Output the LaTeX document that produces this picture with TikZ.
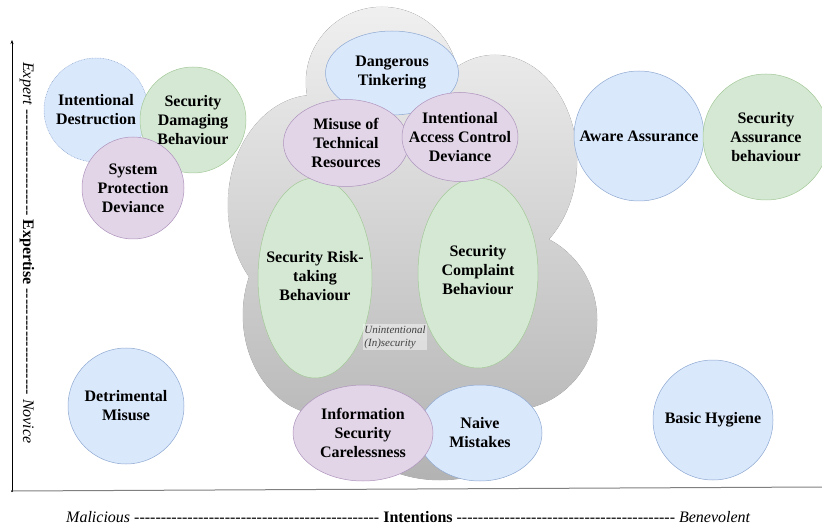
\documentclass[tikz,border=0pt]{standalone}
\usepackage{fontspec}
\setmainfont{Liberation Serif}
\usetikzlibrary{shapes.geometric,arrows.meta}

\definecolor{bluefill}{HTML}{DAE8FC}
\definecolor{blueline}{HTML}{8EA9D1}
\definecolor{greenfill}{HTML}{D5E8D4}
\definecolor{greenline}{HTML}{A3C997}
\definecolor{purplefill}{HTML}{E1D5E7}
\definecolor{purpleline}{HTML}{AE93BD}

% a run of single hyphens (no en/em dash ligatures)
\newcommand\dashrun[1]{\foreach\k in {1,...,#1}{-\kern0pt}}

\tikzset{
 bub/.style={ellipse, inner sep=0pt, line width=0.5pt},
 bluebub/.style={bub, fill=bluefill, draw=blueline},
 greenbub/.style={bub, fill=greenfill, draw=greenline},
 purplebub/.style={bub, fill=purplefill, draw=purpleline},
 txt/.style={align=center, inner sep=0pt, font=\fontsize{16}{19}\selectfont\bfseries},
 axislabel/.style={inner sep=0pt, font=\fontsize{16}{19}\selectfont}
}

\begin{document}
\begin{tikzpicture}[x=1pt,y=-1pt]
 \useasboundingbox (0,0) rectangle (822,529);

 % axes
 \coordinate (orig) at (12,491);
 \coordinate (ytop) at (12,40);
 \coordinate (xend) at (822,487);
 \draw[line width=0.5pt, -{Stealth[length=4pt,width=3pt]}] (orig) -- (ytop);
 \draw[black!50, line width=1pt] (orig) -- (xend);
 \fill (orig) circle (1pt);

 \node[axislabel, rotate=-90, anchor=west] (ylab) at (27,62)
  {\textit{Expert} \dashrun{20} \textbf{Expertise} \dashrun{20} \textit{Novice}};
 \node[axislabel, anchor=west] (xlab) at (66,517)
  {\textit{Malicious} \dashrun{46} \textbf{Intentions} \dashrun{41} \textit{Benevolent}};

 % the cloud
 \draw[black!45, line width=0.5pt]
  (382,82) ellipse [x radius=76, y radius=75]
  (315,205) ellipse [x radius=87, y radius=110]
  (495,160) ellipse [x radius=82, y radius=105]
  (325,315) ellipse [x radius=82, y radius=100]
  (510,320) ellipse [x radius=87, y radius=90]
  (440,420) ellipse [x radius=90, y radius=60];
 \shade[top color=black!6, bottom color=black!30]
  (382,82) ellipse [x radius=76, y radius=75]
  (315,205) ellipse [x radius=87, y radius=110]
  (495,160) ellipse [x radius=82, y radius=105]
  (325,315) ellipse [x radius=82, y radius=100]
  (510,320) ellipse [x radius=87, y radius=90]
  (440,420) ellipse [x radius=90, y radius=60]
  (410,260) ellipse [x radius=125, y radius=165];

 % shapes
 \node[bluebub, draw=blueline, dash pattern=on 0.8pt off 0.8pt, minimum size=104pt] (destr) at (96,110) {};
 \node[greenbub, minimum size=106pt] (damag) at (193,120) {};
 \node[purplebub, minimum size=102pt] (protect) at (133,188) {};

 \node[bluebub, minimum width=133pt, minimum height=84pt] (tinker) at (392,73) {};
 \node[greenbub, minimum width=114pt, minimum height=200pt] (risk) at (315,278) {};
 \node[greenbub, minimum width=120pt, minimum height=190pt] (compl) at (478,273) {};
 \node[purplebub, minimum width=125pt, minimum height=87pt] (misuse) at (346,143) {};
 \node[purplebub, minimum width=116pt, minimum height=89pt] (access) at (460,137) {};
 \node[bluebub, minimum width=124pt, minimum height=96pt] (naive) at (480,433) {};
 \node[purplebub, minimum width=140pt, minimum height=96pt] (careless) at (363,433) {};

 \node[bluebub, minimum size=130pt] (aware) at (639,136) {};
 \node[greenbub, minimum size=126pt] (assur) at (766,137) {};
 \node[bluebub, minimum size=116pt] (detrim) at (126,406) {};
 \node[bluebub, minimum size=120pt] (hygiene) at (713,420) {};

 \node[fill=white, fill opacity=0.45, text opacity=1, text=black!75, align=left, inner sep=1pt,
  font=\itshape\fontsize{11}{13}\selectfont] (unint) at (395,337) {Unintentional\\(In)security};

 % labels
 \node[txt] (destrtxt) at (destr) {Intentional\\Destruction};
 \node[txt] (damagtxt) at (damag) {Security\\Damaging\\Behaviour};
 \node[txt] (protecttxt) at (protect) {System\\Protection\\Deviance};
 \node[txt] (tinkertxt) at (tinker) {Dangerous\\Tinkering};
 \node[txt] (misusetxt) at (misuse) {Misuse of\\Technical\\Resources};
 \node[txt] (accesstxt) at (access) {Intentional\\Access Control\\Deviance};
 \node[txt] (risktxt) at (315,276) {Security Risk-\\taking\\Behaviour};
 \node[txt] (compltxt) at (478,270) {Security\\Complaint\\Behaviour};
 \node[txt] (carelesstxt) at (careless) {Information\\Security\\Carelessness};
 \node[txt] (naivetxt) at (naive) {Naive\\Mistakes};
 \node[txt] (awaretxt) at (aware) {Aware Assurance};
 \node[txt] (assurtxt) at (assur) {Security\\Assurance\\behaviour};
 \node[txt] (detrimtxt) at (detrim) {Detrimental\\Misuse};
 \node[txt] (hygienetxt) at (hygiene) {Basic Hygiene};
\end{tikzpicture}
\end{document}
